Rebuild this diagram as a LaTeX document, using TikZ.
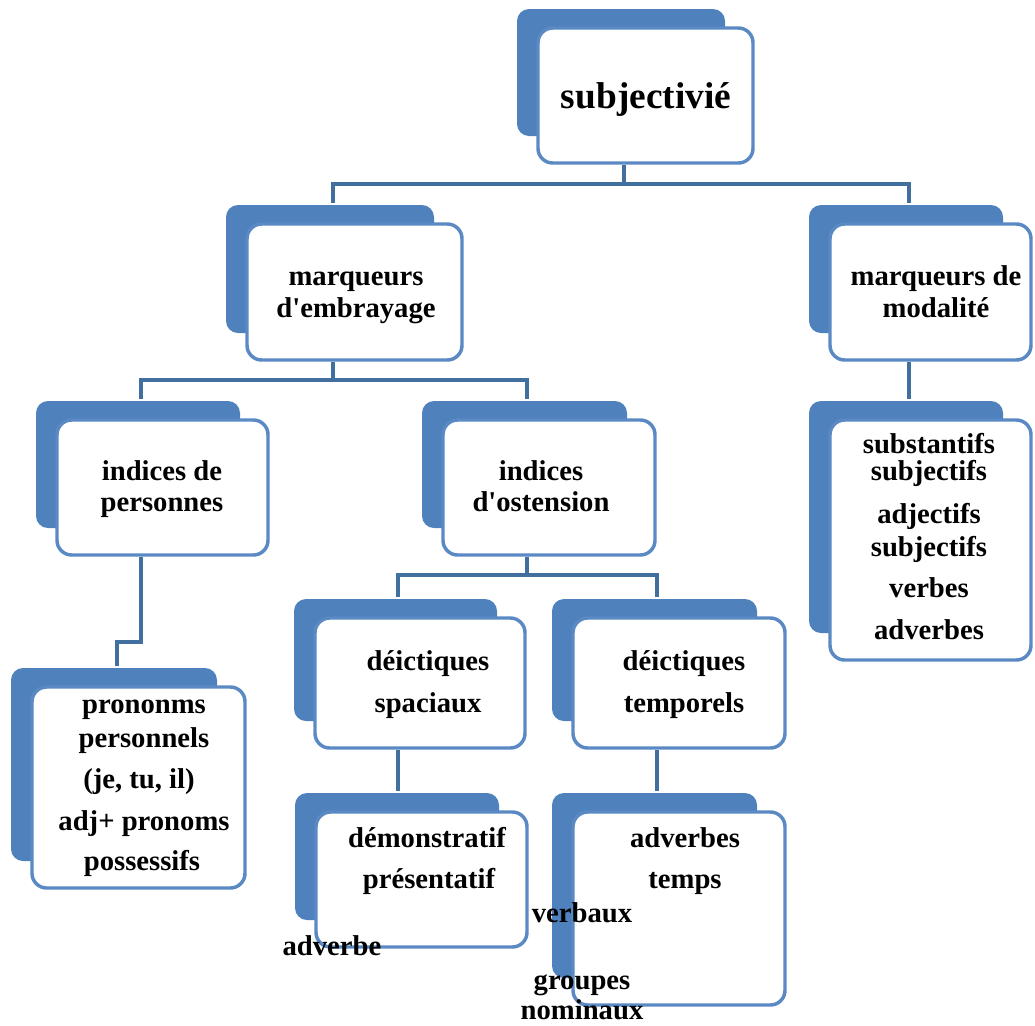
\documentclass[tikz,border=0pt]{standalone}
\usepackage{fontspec}
\setmainfont{Liberation Serif}
\usetikzlibrary{fit,calc}
\definecolor{backblue}{HTML}{4F81BD}
\definecolor{edgeblue}{HTML}{5A89C4}
\definecolor{linkblue}{HTML}{41709F}
\pgfdeclarelayer{bg}\pgfsetlayers{bg,main}
\tikzset{
  frontbox/.style={draw=edgeblue, line width=2.6pt, fill=white, rounded corners=11pt, inner sep=0pt},
  link/.style={draw=linkblue, line width=3pt},
  lbl/.style={anchor=base, font=\fontsize{21.5}{24}\selectfont\bfseries, inner sep=0pt},
  biglbl/.style={anchor=base, font=\fontsize{28}{30}\selectfont\bfseries, inner sep=0pt},
}
\newcommand\mybox[5]{%
  \fill[backblue, rounded corners=9pt] ($(#2,#3)+(-21,-19)$) rectangle ($(#4,#5)+(-28,-27)$);
  \node[frontbox, fit={(#2,#3)(#4,#5)}] (#1) {};
  \coordinate (#1-t) at ($(#1.north)+(-22,-19)$);
  \coordinate (#1-b) at ($(#1.south)+(-22,0)$);
}
\begin{document}
\begin{tikzpicture}[x=0.75pt,y=-0.75pt]
\useasboundingbox (0,0) rectangle (1035,1025);
\mybox{subj}{538}{28}{753}{163}
\mybox{emb}{247}{224}{462}{360}
\mybox{mod}{830}{224}{1031}{360}
\mybox{pers}{57}{420}{268}{555}
\mybox{ost}{443}{420}{655}{555}
\mybox{subs}{830}{420}{1031}{660}
\mybox{pron}{32}{687}{245}{888}
\mybox{spac}{315}{618}{525}{748}
\mybox{temp}{573}{618}{785}{748}
\mybox{demo}{316}{812}{527}{947}
\mybox{advb}{573}{812}{785}{1005}

\begin{pgfonlayer}{bg}
  \coordinate (bus1) at ($(subj-b)+(0,19)$);
  \draw[link] (subj-b) -- (bus1);
  \draw[link] (emb-t) |- (bus1) -| (mod-t);
  \coordinate (bus2) at ($(emb-b)+(0,18)$);
  \draw[link] (emb-b) -- (bus2);
  \draw[link] (pers-t) |- (bus2) -| (ost-t);
  \draw[link] (mod-b) -- (mod-b |- subs-t);
  \draw[link] (pers-b) |- ($(pron-t)+(0,-24)$) -- (pron-t);
  \coordinate (bus3) at ($(ost-b)+(0,18)$);
  \draw[link] (ost-b) -- (bus3);
  \draw[link] (spac-t) |- (bus3) -| (temp-t);
  \draw[link] (spac-b) -- (spac-b |- demo-t);
  \draw[link] (temp-b) -- (temp-b |- advb-t);
\end{pgfonlayer}

\node[biglbl] (t1) at (646,108) {subjectivié};
\node[lbl] (t2) at (356,285) {marqueurs};
\node[lbl] (t3) at (356,317) {d\textquotesingle embrayage};
\node[lbl] (t4) at (936,285) {marqueurs de};
\node[lbl] (t5) at (936,317) {modalité};
\node[lbl] (t6) at (162,480) {indices de};
\node[lbl] (t7) at (162,511) {personnes};
\node[lbl] (t8) at (541,480) {indices};
\node[lbl] (t9) at (541,511) {d\textquotesingle ostension};
\node[lbl] (t10) at (929,453) {substantifs};
\node[lbl] (t11) at (929,480) {subjectifs};
\node[lbl] (t12) at (929,523) {adjectifs};
\node[lbl] (t13) at (929,556) {subjectifs};
\node[lbl] (t14) at (929,597) {verbes};
\node[lbl] (t15) at (929,639) {adverbes};
\node[lbl] (t16) at (144,713) {prononms};
\node[lbl] (t17) at (144,747) {personnels};
\node[lbl] (t18) at (139,788) {(je, tu, il)};
\node[lbl] (t19) at (144,830) {adj+ pronoms};
\node[lbl] (t20) at (142,870) {possessifs};
\node[lbl] (t21) at (428,670) {déictiques};
\node[lbl] (t22) at (428,712) {spaciaux};
\node[lbl] (t23) at (684,670) {déictiques};
\node[lbl] (t24) at (684,712) {temporels};
\node[lbl] (t25) at (427,847) {démonstratif};
\node[lbl] (t26) at (429,888) {présentatif};
\node[lbl] (t27) at (332,955) {adverbe};
\node[lbl] (t28) at (685,847) {adverbes};
\node[lbl] (t29) at (685,888) {temps};
\node[lbl] (t30) at (582,922) {verbaux};
\node[lbl] (t31) at (582,989) {groupes};
\node[lbl] (t32) at (582,1019) {nominaux};
\end{tikzpicture}
\end{document}
